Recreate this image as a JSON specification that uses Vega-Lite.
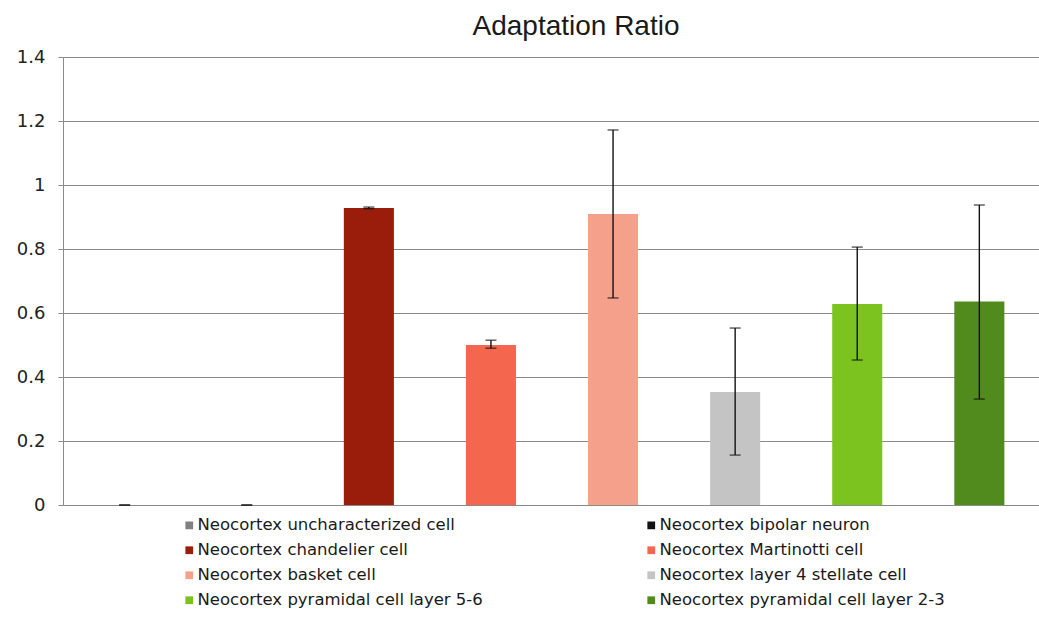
{
  "$schema": "https://vega.github.io/schema/vega-lite/v6.json",
  "autosize": "none",
  "width": 978,
  "height": 448,
  "padding": {"left": 63, "top": 57, "right": 0, "bottom": 118},
  "background": "white",
  "title": {
    "text": "Adaptation Ratio",
    "font": "Liberation Sans",
    "fontSize": 28,
    "fontWeight": "normal",
    "color": "#1a1a1a",
    "anchor": "middle",
    "dx": 24,
    "offset": 7
  },
  "data": {
    "values": [
      {"cell": "Neocortex uncharacterized cell", "order": 1, "ratio": 0, "lo": 0, "hi": 0},
      {"cell": "Neocortex bipolar neuron", "order": 2, "ratio": 0, "lo": 0, "hi": 0},
      {"cell": "Neocortex chandelier cell", "order": 3, "ratio": 0.928, "lo": 0.926, "hi": 0.931},
      {"cell": "Neocortex Martinotti cell", "order": 4, "ratio": 0.5, "lo": 0.49, "hi": 0.515},
      {"cell": "Neocortex basket cell", "order": 5, "ratio": 0.909, "lo": 0.647, "hi": 1.172},
      {"cell": "Neocortex layer 4 stellate cell", "order": 6, "ratio": 0.353, "lo": 0.156, "hi": 0.553},
      {"cell": "Neocortex pyramidal cell layer 5-6", "order": 7, "ratio": 0.628, "lo": 0.453, "hi": 0.806},
      {"cell": "Neocortex pyramidal cell layer 2-3", "order": 8, "ratio": 0.636, "lo": 0.331, "hi": 0.9375}
    ]
  },
  "encoding": {
    "x": {
      "field": "cell",
      "type": "nominal",
      "sort": {"field": "order"},
      "scale": {"paddingInner": 0.59, "paddingOuter": 0.3},
      "axis": {"labels": false, "ticks": false, "title": null, "domainColor": "#8a8a8a", "domainWidth": 1.2}
    }
  },
  "layer": [
    {
      "mark": {"type": "bar"},
      "encoding": {
        "y": {
          "field": "ratio",
          "type": "quantitative",
          "scale": {"domain": [0, 1.4], "nice": false},
          "axis": {
            "title": null,
            "values": [0, 0.2, 0.4, 0.6, 0.8, 1, 1.2, 1.4],
            "format": "~g",
            "labelFont": "DejaVu Sans",
            "labelFontSize": 18,
            "labelColor": "#222222",
            "labelPadding": 13,
            "tickSize": 5,
            "tickColor": "#8a8a8a",
            "domainColor": "#8a8a8a",
            "gridColor": "#8a8a8a",
            "gridWidth": 1.1
          }
        },
        "color": {
          "field": "cell",
          "type": "nominal",
          "sort": {"field": "order"},
          "scale": {
            "domain": [
              "Neocortex uncharacterized cell",
              "Neocortex bipolar neuron",
              "Neocortex chandelier cell",
              "Neocortex Martinotti cell",
              "Neocortex basket cell",
              "Neocortex layer 4 stellate cell",
              "Neocortex pyramidal cell layer 5-6",
              "Neocortex pyramidal cell layer 2-3"
            ],
            "range": ["#808080", "#111111", "#9a1d0c", "#f5664e", "#f5a08a", "#c4c4c4", "#7dc31f", "#518a1d"]
          },
          "legend": {
            "title": null,
            "orient": "none",
            "legendX": 118,
            "legendY": 460,
            "direction": "horizontal",
            "columns": 2,
            "columnPadding": 160,
            "rowPadding": 8,
            "symbolType": "square",
            "symbolSize": 60,
            "symbolOffset": 0,
            "labelFont": "DejaVu Sans",
            "labelFontSize": 16.5,
            "labelColor": "#1a1a1a",
            "labelOffset": 0,
            "labelLimit": 400
          }
        }
      }
    },
    {
      "mark": {"type": "rule", "color": "#111111", "strokeWidth": 1.4},
      "encoding": {
        "y": {"field": "lo", "type": "quantitative"},
        "y2": {"field": "hi"}
      }
    },
    {
      "mark": {"type": "tick", "color": "#111111", "thickness": 1.4, "size": 11},
      "encoding": {"y": {"field": "lo", "type": "quantitative"}}
    },
    {
      "mark": {"type": "tick", "color": "#111111", "thickness": 1.4, "size": 11},
      "encoding": {"y": {"field": "hi", "type": "quantitative"}}
    }
  ],
  "config": {
    "view": {"stroke": null},
    "axis": {"domain": true}
  }
}
